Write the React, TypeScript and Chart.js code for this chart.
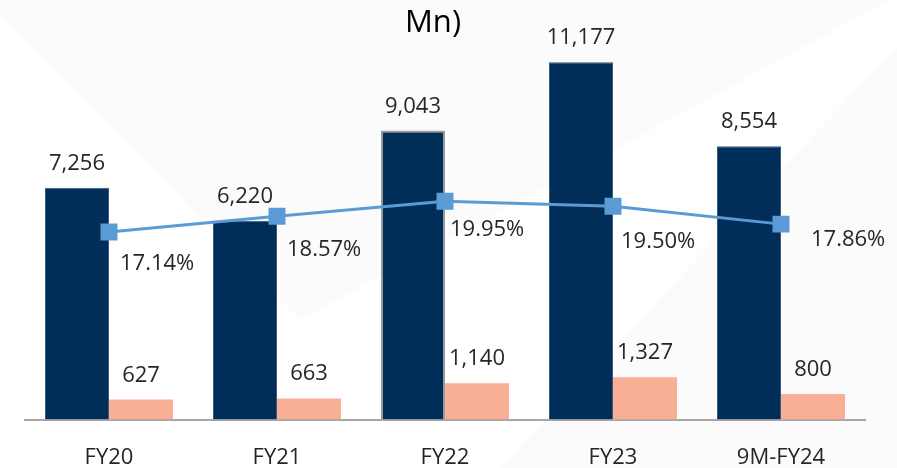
import React, { useEffect, useRef } from "react";
import { Chart, registerables } from "chart.js";

Chart.register(...registerables);

const categories = ["FY20", "FY21", "FY22", "FY23", "9M-FY24"];
const revenueValues = [7256, 6220, 9043, 11177, 8554];
const ebitdaValues = [627, 663, 1140, 1327, 800];
const marginValues = [17.14, 18.57, 19.95, 19.5, 17.86];
const marginLabels = ["17.14%", "18.57%", "19.95%", "19.50%", "17.86%"];
const titleText = "Mn)";

// label placement offsets (px) for the margin labels, relative to marker
const marginLabelDx = [11, 10, 5, 8, 30];
const marginLabelDy = [38, 40, 35, 42, 22];

const FONT = "'Open Sans', 'Noto Sans', sans-serif";
const NAVY = "#002E58";
const SALMON = "#F8AF96";
const LINE = "#5B9BD5";
const TEXT = "#262626";

const fmt = (v: number) => v.toLocaleString("en-US");

const bgPlugin = {
  id: "bg",
  beforeDraw(chart: any) {
    const { ctx, width, height } = chart;
    ctx.save();
    ctx.fillStyle = "#ffffff";
    ctx.fillRect(0, 0, width, height);
    ctx.fillStyle = "#fbfbfb";
    ctx.beginPath();
    ctx.moveTo(0, 0);
    ctx.lineTo(0, 13);
    ctx.lineTo(300, 320);
    ctx.lineTo(890, 0);
    ctx.closePath();
    ctx.fill();
    ctx.beginPath();
    ctx.moveTo(897, 47);
    ctx.lineTo(897, 468);
    ctx.lineTo(500, 468);
    ctx.closePath();
    ctx.fill();
    ctx.restore();
  },
};

const labelPlugin = {
  id: "labels",
  afterDraw(chart: any) {
    const { ctx } = chart;
    ctx.save();
    ctx.fillStyle = TEXT;
    ctx.font = `22px ${FONT}`;
    ctx.textAlign = "center";
    ctx.textBaseline = "alphabetic";
    [0, 1].forEach((di) => {
      const meta = chart.getDatasetMeta(di);
      const vals = di === 0 ? revenueValues : ebitdaValues;
      meta.data.forEach((bar: any, i: number) => {
        ctx.fillText(fmt(vals[i]), bar.x, bar.y - 18);
      });
    });
    const lineMeta = chart.getDatasetMeta(2);
    ctx.textAlign = "left";
    lineMeta.data.forEach((pt: any, i: number) => {
      ctx.fillText(marginLabels[i], pt.x + marginLabelDx[i], pt.y + marginLabelDy[i]);
    });
    ctx.fillStyle = "#000000";
    ctx.font = `31px ${FONT}`;
    ctx.textAlign = "center";
    ctx.textBaseline = "middle";
    ctx.fillText(titleText, 433, 23);
    ctx.restore();
  },
};

export default function App() {
  const canvasRef = useRef<HTMLCanvasElement | null>(null);

  useEffect(() => {
    if (!canvasRef.current) return;
    const chart = new Chart(canvasRef.current, {
      type: "bar",
      data: {
        labels: categories,
        datasets: [
          {
            type: "bar",
            data: revenueValues,
            backgroundColor: NAVY,
            borderColor: ["#3b5b80", "#3b5b80", "#9a9a9a", "#3b5b80", "#3b5b80"],
            borderWidth: [1, 1, 2, 1, 1],
            categoryPercentage: 0.762,
            barPercentage: 1,
            yAxisID: "y",
            order: 2,
          },
          {
            type: "bar",
            data: ebitdaValues,
            backgroundColor: SALMON,
            borderWidth: 0,
            categoryPercentage: 0.762,
            barPercentage: 1,
            yAxisID: "y",
            order: 2,
          },
          {
            type: "line",
            data: marginValues,
            borderColor: LINE,
            backgroundColor: LINE,
            borderWidth: 3,
            pointStyle: "rect",
            pointRadius: 12,
            pointBorderWidth: 0,
            pointBackgroundColor: LINE,
            yAxisID: "y1",
            order: 0,
          } as any,
        ],
      },
      options: {
        animation: false,
        responsive: false,
        maintainAspectRatio: false,
        layout: { padding: { top: -2, left: 25, right: 32, bottom: -28 } },
        plugins: {
          legend: { display: false },
          tooltip: { enabled: false },
          title: { display: false },
        },
        scales: {
          x: {
            grid: { display: false, drawTicks: false },
            border: { display: true, color: "#a6a6a6", width: 2 },
            ticks: {
              color: TEXT,
              font: { family: FONT, size: 22 },
              padding: 25,
            },
          },
          y: { display: false, min: 0, max: 12750 },
          y1: { display: false, min: 0, max: 37.24 },
        },
      },
      plugins: [bgPlugin, labelPlugin],
    });
    return () => chart.destroy();
  }, []);

  return (
    <div style={{ position: "fixed", left: 0, top: 0, width: 897, height: 468 }}>
      <canvas ref={canvasRef} width={897} height={468} style={{ display: "block" }} />
    </div>
  );
}
